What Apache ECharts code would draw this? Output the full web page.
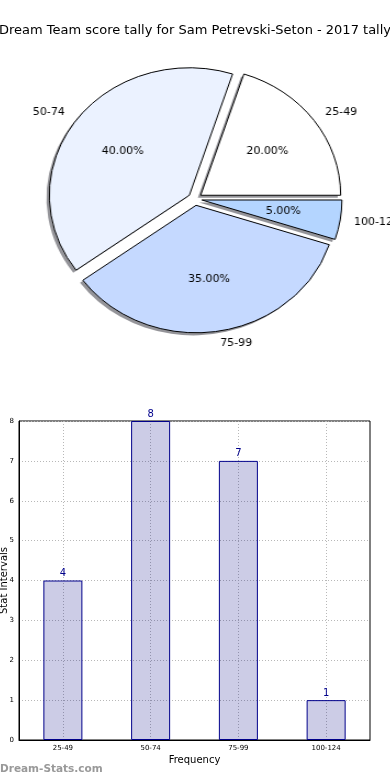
<!DOCTYPE html>
<html>
<head>
<meta charset="utf-8">
<script src="https://cdn.jsdelivr.net/npm/echarts@6/dist/echarts.min.js"></script>
<style>
html,body{margin:0;padding:0;background:#fff;overflow:hidden;}
#wrap{position:relative;width:390px;height:780px;overflow:hidden;}
#c{position:absolute;left:0;top:0;width:390px;height:780px;}
#p{position:absolute;left:0;top:0;width:390px;height:400px;transform-origin:195px 199px;}
</style>
</head>
<body>
<div id="wrap"><div id="c"></div><div id="p"></div></div>
<script>
const titleText = 'Dream Team score tally for Sam Petrevski-Seton - 2017 tally';
const categories = ['25-49', '50-74', '75-99', '100-124'];
const counts = [4, 8, 7, 1];
const pieColors = ['#ffffff', '#ebf2ff', '#c5d9ff', '#b4d5ff'];
const yTicks = [0, 1, 2, 3, 4, 5, 6, 7, 8];
const xName = 'Frequency';
const yName = 'Stat Intervals';
const watermark = 'Dream-Stats.com';

const FONT = 'DejaVu Sans';
// pie is an ellipse in the reference: vertical radius R, horizontal R*SX
const R = 127.5;
const SX = 1.098;
const CX = 195, CY = 199;
const EXPLODE = 0.05 * R;

document.getElementById('p').style.transform = 'scaleX(' + SX + ')';

const mkData = (withColor) => categories.map((c, i) => {
  const d = { name: c, value: counts[i], selected: true };
  if (withColor) d.itemStyle = { color: pieColors[i] };
  return d;
});

const common = {
  type: 'pie', center: [CX, CY], startAngle: 0, clockwise: false,
  selectedMode: 'multiple', selectedOffset: EXPLODE,
  avoidLabelOverlap: false, emphasis: { disabled: true }, silent: true
};

const pie = echarts.init(document.getElementById('p'), null, { renderer: 'canvas' });
pie.setOption({
  animation: false,
  series: [
    Object.assign({}, common, {
      radius: R, z: 1,
      itemStyle: { borderWidth: 0, shadowColor: 'rgba(60,60,70,0.55)',
        shadowOffsetX: -2.6, shadowOffsetY: 2.6, shadowBlur: 0 },
      label: { show: false }, labelLine: { show: false },
      data: mkData(true)
    }),
    Object.assign({}, common, {
      radius: R, z: 2,
      itemStyle: { borderColor: '#000', borderWidth: 1 },
      label: { show: true, position: 'outside', formatter: '{b}', fontSize: 10, color: '#000',
        fontFamily: FONT, distanceToLabelLine: 0 },
      labelLine: { show: false, length: 0.1 * R, length2: 0 },
      data: mkData(true)
    }),
    Object.assign({}, common, {
      radius: [R * 0.13, R], z: 3, percentPrecision: 2,
      itemStyle: { color: 'rgba(0,0,0,0)', borderWidth: 0 },
      label: { show: true, position: 'inside', fontSize: 10, color: '#000', fontFamily: FONT,
        formatter: p => p.percent.toFixed(2) + '%' },
      labelLine: { show: false },
      data: mkData(false)
    })
  ]
});

const chart = echarts.init(document.getElementById('c'), null, { renderer: 'canvas' });
chart.setOption({
  animation: false,
  backgroundColor: '#fff',
  textStyle: { fontFamily: FONT },
  graphic: [
    { type: 'text', left: 'center', top: 24,
      style: { text: titleText, fontSize: 13, fontFamily: FONT, fill: '#000' } },
    { type: 'text', left: 0, top: 764,
      style: { text: watermark, fontSize: 10.5, fontWeight: 'bold', fontFamily: FONT, fill: '#999' } }
  ],
  grid: { left: 19, right: 20, top: 421, bottom: 40, show: true, borderColor: '#000', borderWidth: 1,
    containLabel: false, outerBoundsMode: 'none' },
  xAxis: {
    type: 'category', data: categories,
    name: xName, nameLocation: 'middle', nameGap: 15, nameMoveOverlap: false,
    nameTextStyle: { fontSize: 10, color: '#000', fontFamily: FONT },
    axisLine: { lineStyle: { color: '#000' } },
    axisTick: { show: false },
    axisLabel: { fontSize: 7, color: '#000', margin: 5, fontFamily: FONT },
    splitLine: { show: true, alignWithLabel: true, lineStyle: { color: '#b8b8b8', type: [1, 2], width: 1 } }
  },
  yAxis: {
    type: 'value', min: yTicks[0], max: yTicks[yTicks.length - 1], interval: 1,
    name: yName, nameLocation: 'middle', nameGap: 10, nameRotate: 90, nameMoveOverlap: false,
    nameTextStyle: { fontSize: 10, color: '#000', fontFamily: FONT },
    axisLine: { show: true, lineStyle: { color: '#000' } },
    axisTick: { show: false },
    axisLabel: { fontSize: 7, color: '#000', margin: 5, fontFamily: FONT },
    splitLine: { show: true, lineStyle: { color: '#b8b8b8', type: [1, 2], width: 1 } }
  },
  series: [
    {
      type: 'bar', data: counts, barWidth: 39,
      itemStyle: { color: 'rgba(0,0,128,0.2)', borderColor: '#00008b', borderWidth: 1 },
      label: { show: true, position: 'top', distance: 2, fontSize: 10, color: '#00008b', fontFamily: FONT },
      emphasis: { disabled: true }, silent: true
    }
  ]
});
</script>
</body>
</html>
